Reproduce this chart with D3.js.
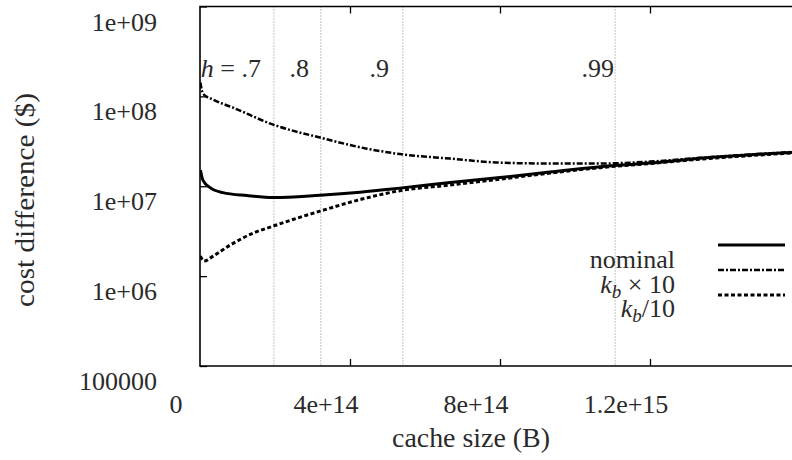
<!DOCTYPE html>
<html>
<head>
<meta charset="utf-8">
<script src="https://cdn.jsdelivr.net/npm/d3@7"></script>
</head>
<body style="margin:0">
<svg id="fig" width="792" height="460"></svg>
<script>
// ---------------- data ----------------
const seriesNames = ["nominal", "kb×10", "kb/10"];

const nominalX = [1.3e12, 8e12, 2.7e13, 6.1e13, 1.25e14, 1.95e14, 3.2e14, 4.27e14, 5.33e14, 6.67e14, 8e14, 9.33e14, 1.067e15, 1.2e15, 1.333e15, 1.58e15];
const nominalY = [1.51e7, 1.16e7, 9.64e6, 8.49e6, 7.87e6, 7.48e6, 7.96e6, 8.6e6, 9.53e6, 1.1e7, 1.25e7, 1.44e7, 1.65e7, 1.81e7, 2.05e7, 2.38e7];

const kbTimes10X = [1e12, 8e12, 3.5e13, 8.8e13, 1.95e14, 3.2e14, 4.45e14, 5.33e14, 6.67e14, 8e14, 9.33e14, 1.067e15, 1.2e15, 1.333e15, 1.58e15];
const kbTimes10Y = [1.43e8, 1.07e8, 9.2e7, 7.5e7, 4.85e7, 3.48e7, 2.62e7, 2.28e7, 2.03e7, 1.83e7, 1.79e7, 1.79e7, 1.88e7, 2.07e7, 2.41e7];

const kbDiv10X = [1e12, 1.1e13, 3.5e13, 8e13, 1.41e14, 1.95e14, 2.59e14, 3.2e14, 4.32e14, 5.33e14, 6.67e14, 8e14, 9.33e14, 1.067e15, 1.2e15, 1.333e15, 1.58e15];
const kbDiv10Y = [1.67e6, 1.47e6, 1.67e6, 2.21e6, 3.0e6, 3.6e6, 4.42e6, 5.28e6, 7.2e6, 8.93e6, 1.03e7, 1.2e7, 1.4e7, 1.61e7, 1.79e7, 2.0e7, 2.35e7];

const hitRateX = [1.97e14, 3.22e14, 5.41e14, 1.107e15];
const hitRateLabels = ["h = .7", ".8", ".9", ".99"];

const xTickValues = [0, 4e14, 8e14, 1.2e15];
const xTickLabels = ["0", "4e+14", "8e+14", "1.2e+15"];
const yTickValues = [1e5, 1e6, 1e7, 1e8, 1e9];
const yTickLabels = ["100000", "1e+06", "1e+07", "1e+08", "1e+09"];

// ---------------- layout ----------------
const FONT = "Liberation Serif";
const TXT = "#2a2a2a";
const svg = d3.select("#fig");
const L = 200, R = 800, T = 6.5, B = 366;
const x = d3.scaleLinear().domain([0, 1.6e15]).range([L, R]);
const y = d3.scaleLog().domain([1e5, 1e9]).range([B, T]);

function styleText(sel, size) {
  return sel.style("font-family", FONT, "important").attr("fill", TXT).attr("font-size", size);
}

// hit-rate guide lines
svg.append("g").selectAll("line").data(hitRateX).join("line")
  .attr("x1", d => x(d)).attr("x2", d => x(d))
  .attr("y1", T).attr("y2", B)
  .attr("stroke", "#8a8a8a").attr("stroke-width", 1)
  .attr("stroke-dasharray", "1,2");

// hit-rate labels (right ends measured)
const hitLabelEnd = [261, 309, 389, 614];
hitRateLabels.forEach((lab, i) => {
  const t = styleText(svg.append("text"), 26)
    .attr("x", hitLabelEnd[i]).attr("y", 77)
    .attr("text-anchor", "end");
  if (i === 0) {
    t.append("tspan").attr("font-style", "italic").text("h");
    t.append("tspan").text(" = .7");
  } else {
    t.text(lab);
  }
});

// axes: ticks drawn with d3 axes, labels offset from ticks as in the reference
const xAxisB = d3.axisBottom(x).tickValues(xTickValues).tickSizeInner(-7).tickSizeOuter(0)
  .tickFormat("");
const gxb = svg.append("g").attr("transform", `translate(0,${B})`).call(xAxisB);
gxb.select(".domain").remove();
gxb.selectAll(".tick line").attr("stroke", "#000").attr("stroke-width", 1.3)
  .filter(d => d === 0).remove();
gxb.selectAll(".tick text").remove();
xTickValues.forEach((v, i) => {
  styleText(svg.append("text"), 26)
    .attr("x", x(v) - 24).attr("y", B + 47).attr("text-anchor", "middle")
    .text(xTickLabels[i]);
});

const xAxisT = d3.axisTop(x).tickValues(xTickValues.slice(1)).tickSizeInner(-7).tickSizeOuter(0).tickFormat("");
const gxt = svg.append("g").attr("transform", `translate(0,${T})`).call(xAxisT);
gxt.select(".domain").remove();
gxt.selectAll(".tick text").remove();
gxt.selectAll(".tick line").attr("stroke", "#000").attr("stroke-width", 1.3);

const yAxis = d3.axisLeft(y).tickValues(yTickValues).tickSizeInner(-7).tickSizeOuter(0)
  .tickFormat("");
const gy = svg.append("g").attr("transform", `translate(${L},0)`).call(yAxis);
gy.select(".domain").remove();
gy.selectAll(".tick text").remove();
gy.selectAll(".tick line").attr("stroke", "#000").attr("stroke-width", 1.3);
yTickValues.forEach((v, i) => {
  styleText(svg.append("text"), 26)
    .attr("x", L - 43).attr("y", y(v) + 24).attr("text-anchor", "end")
    .text(yTickLabels[i]);
});

// frame (top, left, bottom)
svg.append("path")
  .attr("d", `M${R},${T}H${L}V${B}H${R}`)
  .attr("fill", "none").attr("stroke", "#000").attr("stroke-width", 1.6);

// curves
const line = d3.line().x(d => x(d[0])).y(d => y(d[1])).curve(d3.curveMonotoneX);
const styles = [
  { w: 3, dash: null },
  { w: 2.5, dash: "6,2,2,2" },
  { w: 3, dash: "4,2.5" }
];
const series = [
  d3.zip(nominalX, nominalY),
  d3.zip(kbTimes10X, kbTimes10Y),
  d3.zip(kbDiv10X, kbDiv10Y)
];
svg.append("clipPath").attr("id", "clip").append("rect")
  .attr("x", L).attr("y", T).attr("width", R - L).attr("height", B - T);
series.forEach((s, i) => {
  svg.append("path").datum(s)
    .attr("d", line).attr("fill", "none").attr("stroke", "#000")
    .attr("stroke-width", styles[i].w)
    .attr("stroke-dasharray", styles[i].dash)
    .attr("clip-path", "url(#clip)");
});

// legend
const legY = [245, 270, 295];
const legTextY = [268, 293, 317];
series.forEach((s, i) => {
  svg.append("line").attr("x1", 718).attr("x2", 785).attr("y1", legY[i]).attr("y2", legY[i])
    .attr("stroke", "#000").attr("stroke-width", styles[i].w)
    .attr("stroke-dasharray", styles[i].dash);
  const t = styleText(svg.append("text"), 26).attr("x", 675).attr("y", legTextY[i])
    .attr("text-anchor", "end");
  if (i === 0) {
    t.text(seriesNames[0]);
  } else {
    t.append("tspan").attr("font-style", "italic").text("k");
    t.append("tspan").attr("font-style", "italic").attr("font-size", 19).attr("dy", 5).text("b");
    t.append("tspan").attr("dy", -5).text(i === 1 ? " × 10" : "/10");
  }
});

// axis titles
styleText(svg.append("text"), 27).attr("x", 471).attr("y", 447).attr("text-anchor", "middle")
  .attr("textLength", 158).attr("lengthAdjust", "spacingAndGlyphs")
  .text("cache size (B)");
styleText(svg.append("text"), 27).attr("transform", "translate(34,200) rotate(-90)")
  .attr("text-anchor", "middle")
  .attr("textLength", 214).attr("lengthAdjust", "spacingAndGlyphs")
  .text("cost difference ($)");
</script>
</body>
</html>
